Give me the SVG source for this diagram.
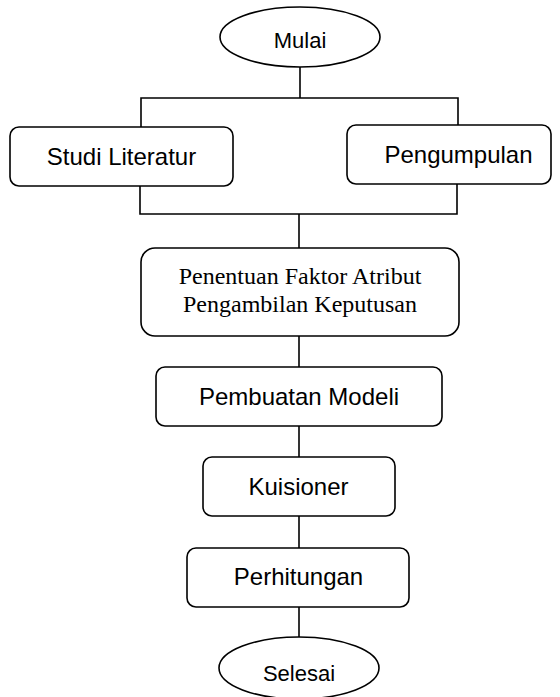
<svg xmlns="http://www.w3.org/2000/svg" width="560" height="697" viewBox="0 0 560 697">
<style>
.shape{fill:#fff;stroke:#000;stroke-width:1.6}
.conn{fill:none;stroke:#000;stroke-width:1.6}
.sans{font-family:"Liberation Sans",Arial,sans-serif;font-size:24px;fill:#000;text-anchor:middle}
.small{font-size:22px}
.serif{font-family:"Liberation Serif","Times New Roman",serif;font-size:24px;fill:#000;text-anchor:middle}
</style>
<rect width="560" height="697" fill="#fff"/>
<g id="connectors">
<path class="conn" d="M300,67 V98"/>
<path class="conn" d="M141,127 V98 H458 V125"/>
<path class="conn" d="M140,186 V214 H457 V184"/>
<path class="conn" d="M299,214 V248"/>
<path class="conn" d="M299,336 V367"/>
<path class="conn" d="M299,426 V457"/>
<path class="conn" d="M299,516 V548"/>
<path class="conn" d="M299,607 V637"/>
</g>
<g id="mulai">
<ellipse class="shape" cx="300" cy="37" rx="80" ry="30"/>
<text class="sans small" x="300" y="48">Mulai</text>
</g>
<g id="studi-literatur">
<rect class="shape" x="10" y="127" width="223" height="59" rx="9"/>
<text class="sans" x="121.5" y="165">Studi Literatur</text>
</g>
<g id="pengumpulan">
<rect class="shape" x="347" y="125" width="204" height="59" rx="9"/>
<text class="sans" x="458.5" y="163">Pengumpulan</text>
</g>
<g id="penentuan">
<rect class="shape" x="141" y="248" width="318" height="88" rx="14"/>
<text class="serif" x="300" y="284">Penentuan Faktor Atribut</text>
<text class="serif" x="300" y="311.5">Pengambilan Keputusan</text>
</g>
<g id="pembuatan-modeli">
<rect class="shape" x="156" y="367" width="286" height="59" rx="9"/>
<text class="sans" x="299" y="405">Pembuatan Modeli</text>
</g>
<g id="kuisioner">
<rect class="shape" x="203" y="457" width="192" height="59" rx="9"/>
<text class="sans" x="298.5" y="495">Kuisioner</text>
</g>
<g id="perhitungan">
<rect class="shape" x="187" y="548" width="222" height="59" rx="9"/>
<text class="sans" x="298.5" y="585">Perhitungan</text>
</g>
<g id="selesai">
<ellipse class="shape" cx="299" cy="668" rx="80" ry="31"/>
<text class="sans small" x="299" y="681">Selesai</text>
</g>
</svg>
